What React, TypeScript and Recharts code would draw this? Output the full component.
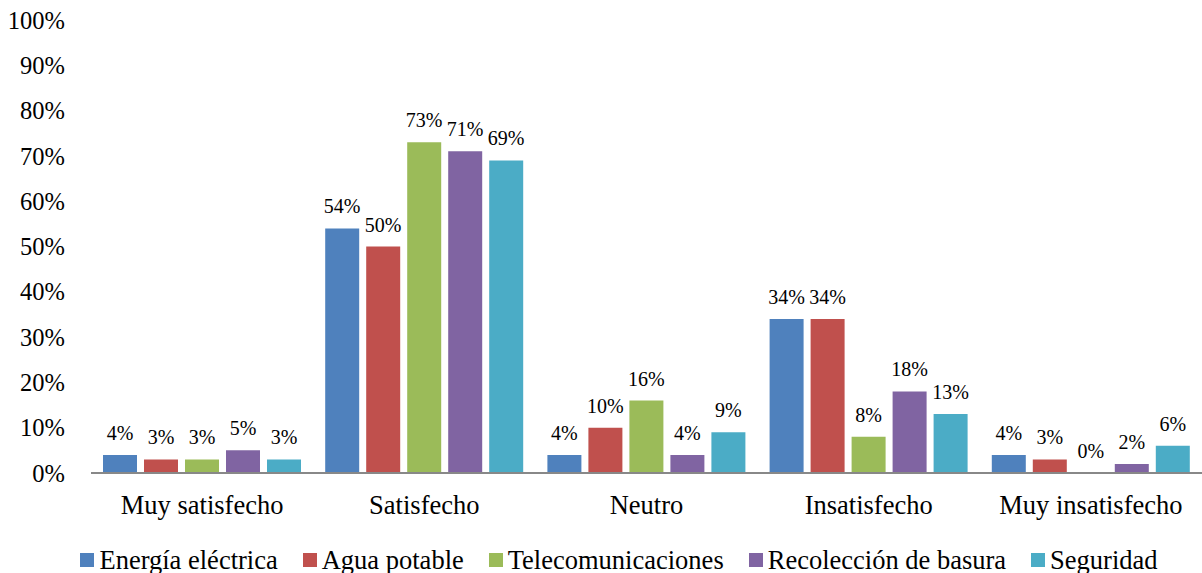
import { Bar, BarChart, LabelList, Legend, XAxis, YAxis } from "recharts";

const categories = ["Muy satisfecho", "Satisfecho", "Neutro", "Insatisfecho", "Muy insatisfecho"];
const energia = [4, 54, 4, 34, 4];
const agua = [3, 50, 10, 34, 3];
const telecom = [3, 73, 16, 8, 0];
const basura = [5, 71, 4, 18, 2];
const seguridad = [3, 69, 9, 13, 6];
const yTicks = [0, 10, 20, 30, 40, 50, 60, 70, 80, 90, 100];

const series = [
  { key: "energia", name: "Energía eléctrica", color: "#4F81BD", values: energia },
  { key: "agua", name: "Agua potable", color: "#C0504D", values: agua },
  { key: "telecom", name: "Telecomunicaciones", color: "#9BBB59", values: telecom },
  { key: "basura", name: "Recolección de basura", color: "#8064A2", values: basura },
  { key: "seguridad", name: "Seguridad", color: "#4BACC6", values: seguridad },
];

const data = categories.map((c, i) => {
  const row: Record<string, string | number> = { cat: c };
  series.forEach((s) => (row[s.key] = s.values[i]));
  return row;
});

const font = "Liberation Serif, Tinos, Times New Roman, serif";

function LegendBox() {
  return (
    <div
      style={{
        display: "flex",
        justifyContent: "center",
        alignItems: "center",
        gap: 25,
        height: 30,
        paddingLeft: 36,
        fontFamily: font,
        fontSize: 26.5,
        color: "#000",
        whiteSpace: "nowrap",
      }}
    >
      {series.map((s) => (
        <div key={s.key} style={{ display: "flex", alignItems: "center" }}>
          <span style={{ width: 14, height: 14, background: s.color, marginRight: 5, display: "inline-block" }} />
          <span>{s.name}</span>
        </div>
      ))}
    </div>
  );
}

function TopLabel(props: any) {
  const { x, y, width, value } = props;
  return (
    <text x={x + width / 2} y={y - 15} textAnchor="middle" fill="#000" fontSize={20} fontFamily={font}>
      {`${value}%`}
    </text>
  );
}

export default function App() {
  return (
    <div style={{ position: "absolute", left: 0, top: 0, background: "#fff", fontFamily: font }}>
      <BarChart
        width={1202}
        height={573}
        data={data}
        margin={{ top: 20, right: 0, bottom: 0, left: 0 }}
        barSize={34}
        barGap={7}
      >
        <XAxis
          dataKey="cat"
          height={70}
          tickSize={0}
          tickMargin={22}
          axisLine={{ stroke: "#888888", strokeWidth: 1.8 }}
          tick={{ fill: "#000", fontSize: 26.5, fontFamily: font }}
          interval={0}
        />
        <YAxis
          width={91}
          domain={[0, 100]}
          ticks={yTicks}
          tickFormatter={(v) => `${v}%`}
          axisLine={false}
          tickLine={false}
          tickSize={0}
          tickMargin={26}
          tick={{ fill: "#000", fontSize: 24.5, fontFamily: font }}
          interval={0}
        />
        <Legend verticalAlign="bottom" content={<LegendBox />} wrapperStyle={{ height: 30, bottom: -2 }} />
        {series.map((s) => (
          <Bar
            key={s.key}
            dataKey={s.key}
            name={s.name}
            fill={s.color}
            minPointSize={(v: number) => (v === 0 ? 0.01 : 0)}
            isAnimationActive={false}
          >
            <LabelList dataKey={s.key} content={<TopLabel />} />
          </Bar>
        ))}
      </BarChart>
    </div>
  );
}
